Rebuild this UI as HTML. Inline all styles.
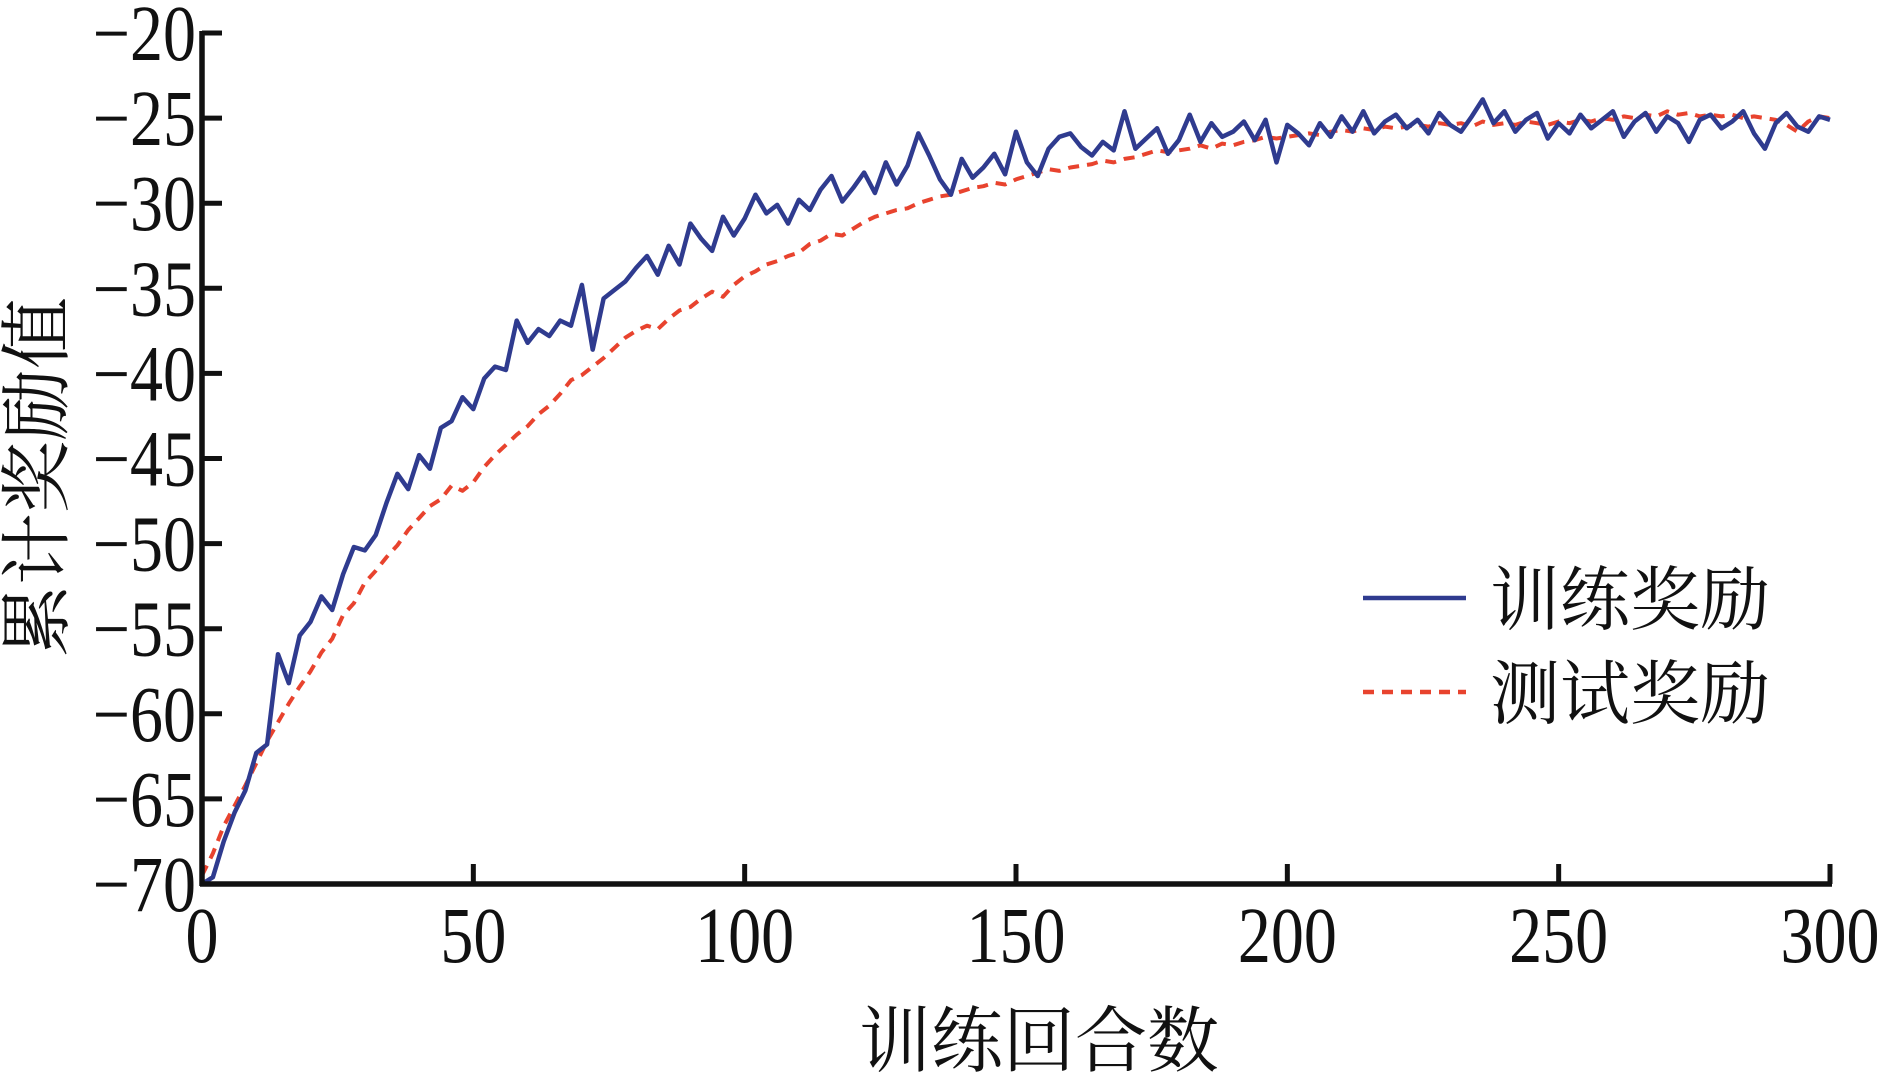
<!DOCTYPE html>
<html><head><meta charset="utf-8">
<style>
html,body{margin:0;padding:0;background:#fff;}
svg{display:block;}
text{font-family:"Liberation Serif","Noto Serif CJK SC",serif;fill:#111;}
.cjk{font-family:"Liberation Serif","Noto Serif CJK SC","Noto Sans CJK SC",serif;}
</style></head>
<body>
<svg id="chart" width="1890" height="1076" viewBox="0 0 1890 1076" xmlns="http://www.w3.org/2000/svg">
<g id="plot"></g>
</svg>
<script>
const xTicks=[0,50,100,150,200,250,300];
const yTicks=[-20,-25,-30,-35,-40,-45,-50,-55,-60,-65,-70];
const episodes=[];for(let e=0;e<=300;e+=2)episodes.push(e);
const trainReward=[
-70,-69.6,-67.5,-65.8,-64.5,-62.3,-61.8,-56.5,-58.2,-55.4,
-54.6,-53.1,-53.9,-51.8,-50.2,-50.4,-49.5,-47.6,-45.9,-46.8,
-44.8,-45.6,-43.2,-42.8,-41.4,-42.1,-40.3,-39.6,-39.8,-36.9,
-38.2,-37.4,-37.8,-36.9,-37.2,-34.8,-38.6,-35.6,-35.1,-34.6,
-33.8,-33.1,-34.2,-32.5,-33.6,-31.2,-32.1,-32.8,-30.8,-31.9,
-30.9,-29.5,-30.6,-30.1,-31.2,-29.8,-30.4,-29.2,-28.4,-29.9,
-29.1,-28.2,-29.4,-27.6,-28.9,-27.8,-25.9,-27.2,-28.6,-29.5,
-27.4,-28.5,-27.9,-27.1,-28.3,-25.8,-27.6,-28.4,-26.8,-26.1,
-25.9,-26.7,-27.2,-26.4,-26.9,-24.6,-26.8,-26.2,-25.6,-27.1,
-26.3,-24.8,-26.4,-25.3,-26.1,-25.8,-25.2,-26.3,-25.1,-27.6,
-25.4,-25.9,-26.6,-25.3,-26.1,-24.9,-25.8,-24.6,-25.9,-25.2,
-24.8,-25.6,-25.1,-25.9,-24.7,-25.4,-25.8,-24.9,-23.9,-25.3,
-24.6,-25.8,-25.1,-24.7,-26.2,-25.3,-25.9,-24.8,-25.6,-25.1,
-24.6,-26.1,-25.2,-24.7,-25.8,-24.9,-25.3,-26.4,-25.1,-24.8,
-25.6,-25.2,-24.6,-25.9,-26.8,-25.3,-24.7,-25.5,-25.8,-24.9,-25.1];
const testReward=[
-69.5,-68.2,-66.6,-65.4,-64.2,-62.9,-61.6,-60.5,-59.4,-58.4,
-57.5,-56.4,-55.6,-54.2,-53.5,-52.3,-51.6,-50.8,-50.1,-49.2,
-48.5,-47.8,-47.4,-46.6,-46.9,-46.4,-45.5,-44.8,-44.2,-43.6,
-43.1,-42.4,-41.9,-41.2,-40.4,-40.1,-39.6,-39.1,-38.5,-37.9,
-37.5,-37.2,-37.4,-36.8,-36.3,-36.1,-35.6,-35.2,-35.5,-34.8,
-34.3,-34.0,-33.6,-33.4,-33.1,-32.9,-32.4,-32.2,-31.8,-31.9,
-31.5,-31.1,-30.8,-30.6,-30.4,-30.3,-30.0,-29.8,-29.6,-29.5,
-29.3,-29.1,-29.0,-28.8,-28.9,-28.6,-28.4,-28.2,-28.0,-28.1,
-27.9,-27.8,-27.7,-27.5,-27.6,-27.4,-27.3,-27.1,-26.9,-27.0,
-26.9,-26.8,-26.6,-26.8,-26.5,-26.6,-26.4,-26.3,-26.1,-26.2,
-26.1,-26.0,-25.9,-26.0,-25.8,-25.7,-25.8,-25.6,-25.7,-25.5,
-25.6,-25.5,-25.4,-25.5,-25.3,-25.4,-25.3,-25.5,-25.2,-25.4,
-25.3,-25.4,-25.2,-25.3,-25.4,-25.2,-25.3,-25.1,-25.2,-25.0,
-25.1,-24.9,-25.0,-24.8,-24.9,-24.6,-24.8,-24.7,-24.9,-24.8,
-24.9,-24.8,-25.0,-24.9,-25.0,-25.1,-25.4,-25.8,-25.2,-24.9,-25.0];
const seriesNames=["训练奖励","测试奖励"];

const NS="http://www.w3.org/2000/svg";
const L=202,R=1830,T=33,B=884;
const xs=v=>L+(v-0)/(300-0)*(R-L);
const ys=v=>B-(v-(-70))/(-20-(-70))*(B-T);
const g=document.getElementById('plot');
function mk(tag,attrs,parent){const e=document.createElementNS(NS,tag);for(const k in attrs)e.setAttribute(k,attrs[k]);(parent||g).appendChild(e);return e;}

function pts(arr){return arr.map((v,i)=>xs(episodes[i]).toFixed(1)+','+ys(v).toFixed(1)).join(' ');}
const test=mk('polyline',{points:pts(testReward),fill:'none',stroke:'#e8432e','stroke-width':4,'stroke-dasharray':'11 8','stroke-linejoin':'round'});


const train=mk('polyline',{points:pts(trainReward),fill:'none',stroke:'#2f3b8f','stroke-width':4.5,'stroke-linejoin':'round'});



const xa=mk('line',{x1:L-2,y1:B,x2:R+2,y2:B,stroke:'#111','stroke-width':5.5});


const ya=mk('line',{x1:L,y1:T-2,x2:L,y2:B+2,stroke:'#111','stroke-width':5.5});



xTicks.forEach(v=>{
  const t=mk('line',{x1:xs(v),y1:B,x2:xs(v),y2:B-20,stroke:'#111','stroke-width':5});
  
  
  const lb=mk('text',{x:0,y:0,'text-anchor':'middle','font-size':66,transform:'translate('+xs(v)+',962) scale(1,1.2)'});
  lb.textContent=v;
  
  
});
yTicks.forEach(v=>{
  const t=mk('line',{x1:L,y1:ys(v),x2:L+20,y2:ys(v),stroke:'#111','stroke-width':5});
  
  
  const lb=mk('text',{x:0,y:0,'text-anchor':'end','font-size':66,transform:'translate(196,'+(ys(v)+27)+') scale(1,1.2)'});
  lb.textContent=String(v).replace('-','\u2212');
  
  
});

const xt=mk('text',{x:1039,y:1066,'text-anchor':'middle','font-size':72,class:'cjk'});
xt.textContent='训练回合数';


const yt=mk('text',{x:0,y:0,'text-anchor':'middle','font-size':72,class:'cjk',transform:'translate(62,477) rotate(-90)'});
yt.textContent='累计奖励值';



const l1=mk('line',{x1:1363,y1:598,x2:1466,y2:598,stroke:'#2f3b8f','stroke-width':4.5});


const t1=mk('text',{x:1490,y:624,'font-size':70,class:'cjk'});
t1.textContent=seriesNames[0];


const l2=mk('line',{x1:1363,y1:692,x2:1466,y2:692,stroke:'#e8432e','stroke-width':4.5,'stroke-dasharray':'11 8'});


const t2=mk('text',{x:1490,y:718,'font-size':70,class:'cjk'});
t2.textContent=seriesNames[1];


</script>
</body></html>
